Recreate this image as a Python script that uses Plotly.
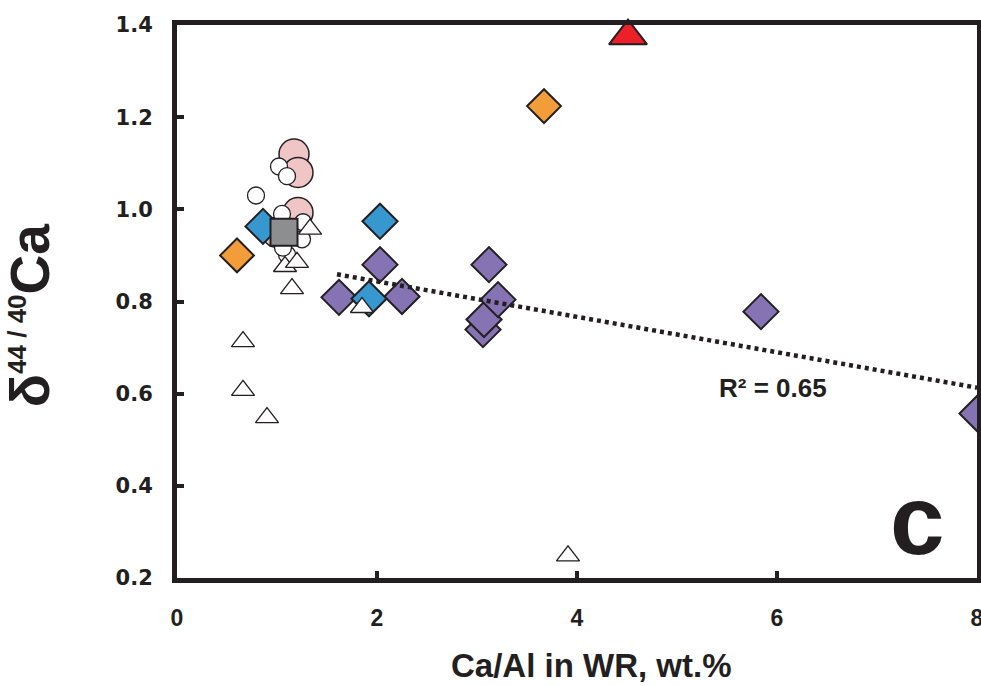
import plotly.graph_objects as go

# ---- data ----
pink_x = [1.17, 1.21, 1.21, 1.00]
pink_y = [1.120, 1.080, 0.993, 0.950]

white_circ_x = [1.02, 1.10, 0.79, 1.05, 1.26, 1.25, 1.10, 1.06, 0.99]
white_circ_y = [1.093, 1.072, 1.030, 0.990, 0.972, 0.935, 0.902, 0.917, 0.960]

purple_x = [1.62, 2.03, 2.25, 3.12, 3.06, 3.07, 3.21, 5.84, 8.00]
purple_y = [0.809, 0.880, 0.811, 0.880, 0.739, 0.761, 0.804, 0.778, 0.557]

blue_x = [0.86, 2.03, 1.92]
blue_y = [0.963, 0.974, 0.806]

grey_x = [1.07]
grey_y = [0.950]

white_tri_x = [1.33, 1.08, 1.20, 1.15, 0.66, 0.66, 0.90, 1.85, 3.91]
white_tri_y = [0.957, 0.876, 0.885, 0.828, 0.713, 0.607, 0.548, 0.787, 0.248]

orange_x = [0.60, 3.67]
orange_y = [0.900, 1.224]

red_x = [4.51]
red_y = [1.376]

trend_x = [1.60, 8.00]
trend_y = [0.859, 0.613]

x_ticks = [0, 2, 4, 6, 8]
y_ticks = [0.2, 0.4, 0.6, 0.8, 1.0, 1.2, 1.4]
y_tick_text = ["0.2", "0.4", "0.6", "0.8", "1.0", "1.2", "1.4"]

INK = "#231f20"
OL = dict(color=INK, width=2)

fig = go.Figure()


def add(x, y, symbol, size, color, line=OL):
    fig.add_trace(go.Scatter(
        x=x, y=y, mode="markers", cliponaxis=False, showlegend=False,
        marker=dict(symbol=symbol, size=size, color=color, line=line),
    ))


add(pink_x, pink_y, "circle", 30, "#efc6c5", dict(color=INK, width=1.5))
add(white_circ_x, white_circ_y, "circle", 17, "white", dict(color=INK, width=1.3))
add(purple_x, purple_y, "diamond", 27, "#8573b3")
add(blue_x, blue_y, "diamond", 27, "#3797cf")
add(grey_x, grey_y, "square", 27, "#8d8e90")
add(white_tri_x, white_tri_y, "triangle-up", 20, "white", dict(color=INK, width=1.3))
add(orange_x, orange_y, "diamond", 26, "#f39c3a")
add(red_x, red_y, "triangle-up", 33, "#ec2029")

fig.add_trace(go.Scatter(
    x=trend_x, y=trend_y, mode="lines", showlegend=False, cliponaxis=False,
    line=dict(color=INK, width=4.5, dash="4px,4px"),
))

SANS = "Liberation Sans, Arial"
fig.add_annotation(x=5.96, y=0.613, xref="x", yref="y", text="R² = 0.65",
                   showarrow=False, font=dict(family=SANS, size=26, color=INK, weight="bold"))
fig.add_annotation(x=7.4, y=0.326, xref="x", yref="y", text="c",
                   showarrow=False, font=dict(family=SANS, size=98, color=INK, weight="bold"))
fig.add_annotation(x=0.518, y=-0.195, xref="paper", yref="paper",
                   text="Ca/Al in WR, wt.%", showarrow=False,
                   font=dict(family=SANS, size=33, color=INK, weight="bold"))
fig.add_annotation(x=-0.225, y=0.475, xref="paper", yref="paper", textangle=-90,
                   text="δ<sup><span style='font-size:26px'>44 / 40</span></sup>Ca",
                   showarrow=False,
                   font=dict(family=SANS, size=55, color=INK, weight="bold"))

axis_common = dict(showline=True, linecolor=INK, linewidth=5, mirror=True,
                   ticks="inside", ticklen=7, tickwidth=4, tickcolor=INK,
                   showgrid=False, zeroline=False, automargin=False,
                   ticklabeloverflow="allow")

fig.update_xaxes(range=[0, 8], tickvals=x_ticks, ticklabelstandoff=15,
                 tickfont=dict(family=SANS, size=23, color=INK, weight="bold"),
                 **axis_common)
fig.update_yaxes(range=[0.2, 1.4], tickvals=y_ticks, ticktext=y_tick_text,
                 ticklabelstandoff=15,
                 tickfont=dict(family="DejaVu Sans, Verdana", size=21, color=INK, weight="bold"),
                 **axis_common)

fig.update_layout(width=981, height=686, plot_bgcolor="white", paper_bgcolor="white",
                  margin=dict(l=177, r=4, t=25, b=108, autoexpand=False))

fig.write_html("out.html", config={"displayModeBar": False},
               post_script="document.body.style.margin='0';document.body.style.overflow='hidden';")
